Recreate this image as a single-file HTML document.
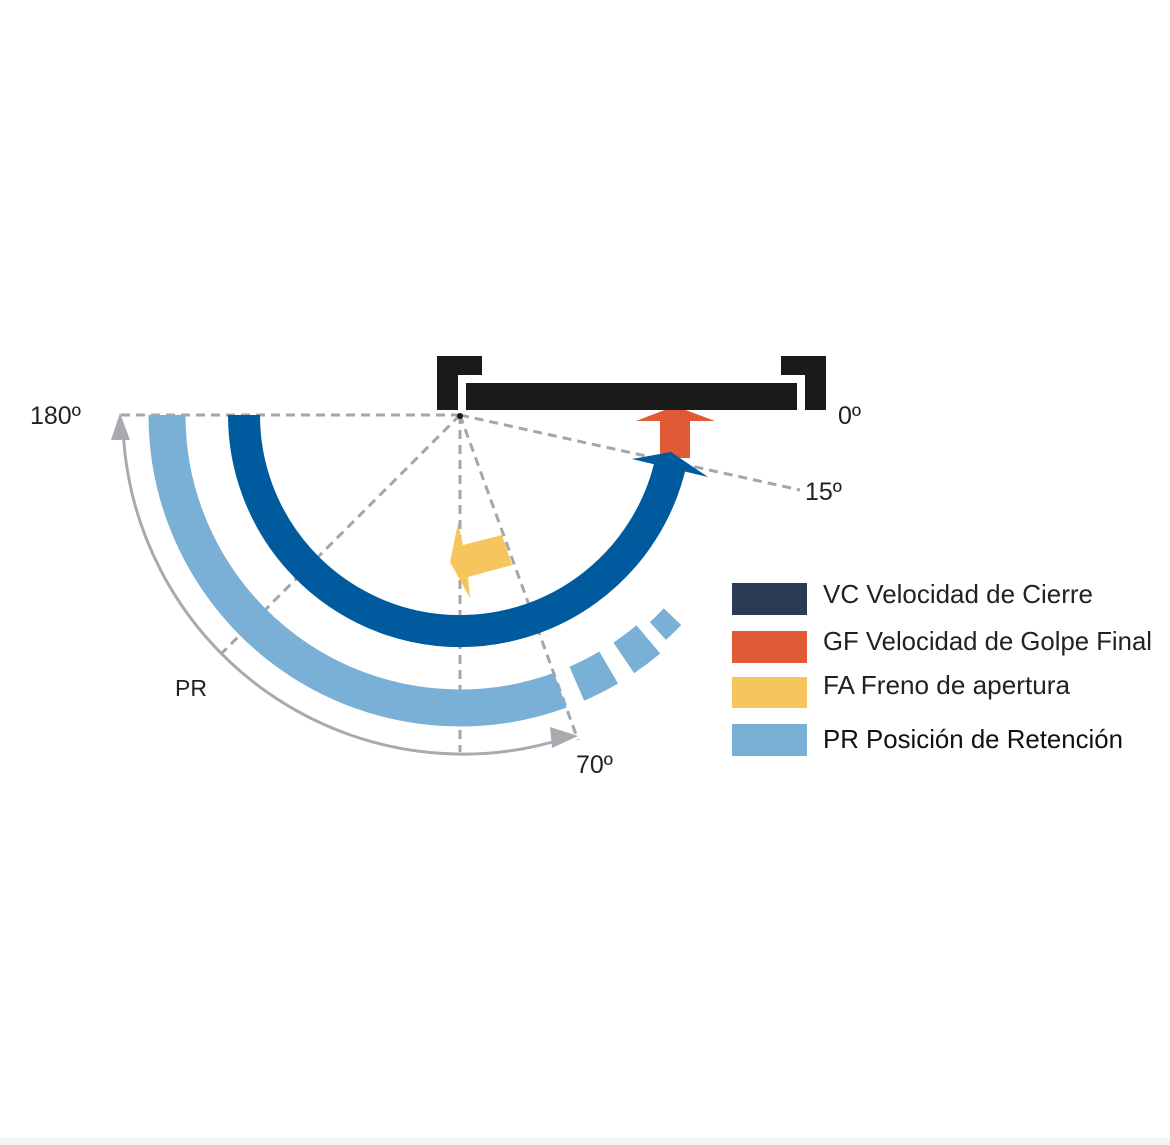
<!DOCTYPE html>
<html><head><meta charset="utf-8"><style>
html,body{margin:0;padding:0;background:#fff;}
svg{display:block;}
text{font-family:"Liberation Sans",sans-serif;fill:#222;}
</style></head><body>
<svg width="1170" height="1145" viewBox="0 0 1170 1145" xmlns="http://www.w3.org/2000/svg">
<rect x="0" y="1138" width="1170" height="7" fill="#f3f4f6"/>
<g stroke="#a3a7ab" stroke-width="3" stroke-dasharray="9 6" fill="none">
<line x1="460" y1="415" x2="120" y2="415"/>
<line x1="460" y1="415" x2="220" y2="655"/>
<line x1="460" y1="415" x2="460" y2="752"/>
<line x1="460" y1="415" x2="578" y2="740"/>
<line x1="460" y1="415" x2="800" y2="490"/>
</g>
<g fill="none" stroke="#7aafd6" stroke-width="37">
<path d="M167,415 A293,293 0 0 0 560.2,690.3"/>
<path d="M576.8,683.7 A293,293 0 0 0 608.7,667.5"/>
<path d="M623.8,657.9 A293,293 0 0 0 648.3,639.4"/>
</g>
<path d="M657.9,631 A293,293 0 0 0 672.5,616.7" fill="none" stroke="#7aafd6" stroke-width="24"/>
<path d="M244,415 A216,216 0 0 0 671.3,459.9" fill="none" stroke="#005a9e" stroke-width="32"/>
<rect x="660" y="418" width="30" height="40" fill="#e05a35"/>
<polygon points="636,421 675,406 715,421" fill="#e05a35"/>
<polygon points="632,459 671,452 708,477" fill="#005a9e"/>
<polygon points="450,562 458,523 463,545 502,535 512,565 468,577 470,598" fill="#f7c55e"/>
<path d="M123,428 A340,340 0 0 0 566,738" fill="none" stroke="#a7abb0" stroke-width="3"/>
<polygon points="120,413 111,440 130,440" fill="#a7abb0"/>
<polygon points="578,736 550,727 552,748" fill="#a7abb0"/>
<path d="M437,356 H482 V375 H458 V410 H437 Z" fill="#1a1a1a"/>
<path d="M781,356 H826 V410 H805 V375 H781 Z" fill="#1a1a1a"/>
<rect x="466" y="383" width="331" height="27" fill="#1a1a1a"/>
<circle cx="460" cy="416" r="3" fill="#1a1a1a"/>
<text x="30" y="424" font-size="25">180º</text>
<text x="838" y="424" font-size="25">0º</text>
<text x="805" y="500" font-size="25">15º</text>
<text x="175" y="696" font-size="23">PR</text>
<text x="576" y="773" font-size="25">70º</text>
<rect x="732" y="583" width="75" height="32" fill="#2b3a55"/>
<rect x="732" y="631" width="75" height="32" fill="#e05a35"/>
<rect x="732" y="677" width="75" height="31" fill="#f7c55e"/>
<rect x="732" y="724" width="75" height="32" fill="#7aafd6"/>
<text x="823" y="603" font-size="26" textLength="270" lengthAdjust="spacingAndGlyphs">VC Velocidad de Cierre</text>
<text x="823" y="650" font-size="26" textLength="329" lengthAdjust="spacingAndGlyphs">GF Velocidad de Golpe Final</text>
<text x="823" y="694" font-size="26" textLength="247" lengthAdjust="spacingAndGlyphs">FA Freno de apertura</text>
<text x="823" y="748" font-size="26" textLength="300" lengthAdjust="spacingAndGlyphs" style="fill:#111">PR Posición de Retención</text>
</svg>
</body></html>
